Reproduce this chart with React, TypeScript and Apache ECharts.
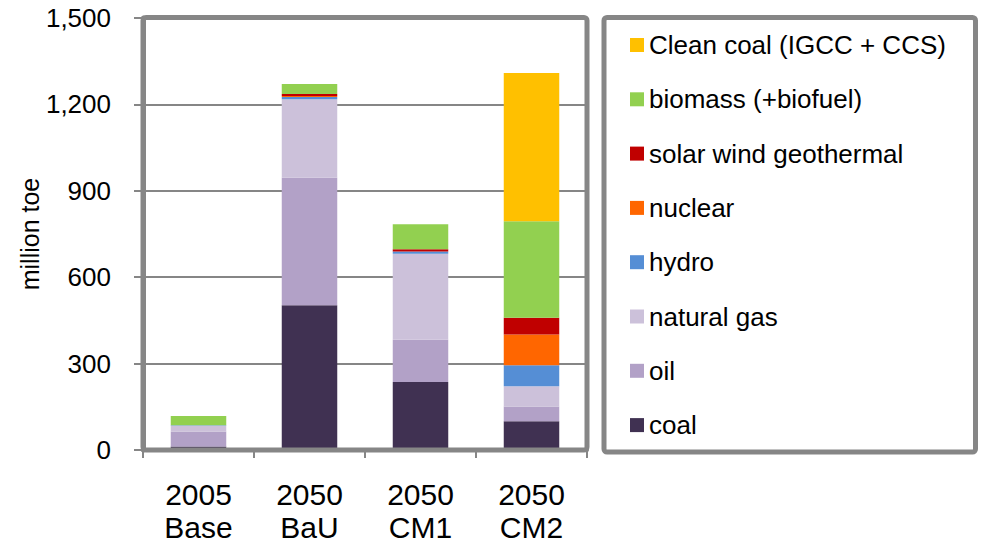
import React, { useEffect, useRef } from "react";
import * as echarts from "echarts";

const categories = ["2005\nBase", "2050\nBaU", "2050\nCM1", "2050\nCM2"];
const coal = [12, 503, 236, 100];
const oil = [52, 442, 147, 51];
const naturalGas = [20, 273, 298, 70];
const hydro = [2, 8, 8, 73];
const nuclear = [0, 3, 0, 107];
const solarWindGeo = [0, 7, 8, 58];
const biomass = [32, 35, 87, 335];
const cleanCoal = [0, 0, 0, 515];
const yTicks = [0, 300, 600, 900, 1200, 1500];

const seriesDefs = [
  { name: "coal", data: coal, color: "#403152" },
  { name: "oil", data: oil, color: "#B2A1C7" },
  { name: "natural gas", data: naturalGas, color: "#CCC1DA" },
  { name: "hydro", data: hydro, color: "#558ED5" },
  { name: "nuclear", data: nuclear, color: "#FF6600" },
  { name: "solar wind geothermal", data: solarWindGeo, color: "#C00000" },
  { name: "biomass (+biofuel)", data: biomass, color: "#92D050" },
  { name: "Clean coal (IGCC + CCS)", data: cleanCoal, color: "#FFC000" },
];

const FONT = "'Liberation Sans', Arial, sans-serif";

export default function App() {
  const ref = useRef<HTMLDivElement>(null);
  useEffect(() => {
    if (!ref.current) return;
    const chart = echarts.init(ref.current, null, { renderer: "svg" });
    const gray = "#868686";
    chart.setOption({
      animation: false,
      backgroundColor: "#ffffff",
      textStyle: { fontFamily: FONT },
      grid: { left: 143, top: 18, width: 444, height: 432, containLabel: false },
      legend: {
        orient: "vertical",
        left: 630,
        top: 32,
        padding: 0,
        itemWidth: 14,
        itemHeight: 14,
        itemGap: 28.3,
        icon: "rect",
        selectedMode: false,
        textStyle: { fontSize: 26, lineHeight: 26, color: "#000", fontFamily: FONT },
        data: seriesDefs.map((s) => s.name).reverse(),
      },
      xAxis: {
        type: "category",
        data: categories,
        axisLine: { show: true, lineStyle: { color: gray, width: 4 } },
        axisTick: { show: true, length: 8, lineStyle: { color: gray, width: 2 } },
        axisLabel: { fontSize: 30, lineHeight: 33, color: "#000", margin: 28, fontFamily: FONT },
      },
      yAxis: {
        type: "value",
        min: 0,
        max: 1500,
        interval: 300,
        name: "million toe",
        nameLocation: "middle",
        nameRotate: 90,
        nameGap: 98,
        nameTextStyle: { fontSize: 25, color: "#000", fontFamily: FONT },
        axisLine: { show: true, lineStyle: { color: gray, width: 5 } },
        axisTick: { show: true, length: 9, lineStyle: { color: gray, width: 2 } },
        axisLabel: {
          fontSize: 26,
          color: "#000",
          margin: 32,
          fontFamily: FONT,
          formatter: (v: number) => (yTicks.includes(v) ? v.toLocaleString("en-US") : ""),
        },
        splitLine: { show: true, lineStyle: { color: gray, width: 2 } },
      },
      series: seriesDefs.map((s) => ({
        name: s.name,
        type: "bar",
        stack: "total",
        barWidth: "50%",
        data: s.data,
        itemStyle: { color: s.color },
        emphasis: { disabled: true },
      })),
      graphic: [
        {
          type: "rect",
          shape: { x: 143, y: 17.5, width: 444, height: 432.5, r: 3 },
          style: { fill: "none", stroke: gray, lineWidth: 5 },
          silent: true,
          z: 10,
        },
        {
          type: "rect",
          shape: { x: 604, y: 17.5, width: 371.5, height: 434.5, r: 3 },
          style: { fill: "none", stroke: gray, lineWidth: 5 },
          silent: true,
          z: 10,
        },
      ],
    });
    return () => chart.dispose();
  }, []);
  return <div ref={ref} style={{ position: "fixed", left: 0, top: 0, width: 989, height: 549 }} />;
}
